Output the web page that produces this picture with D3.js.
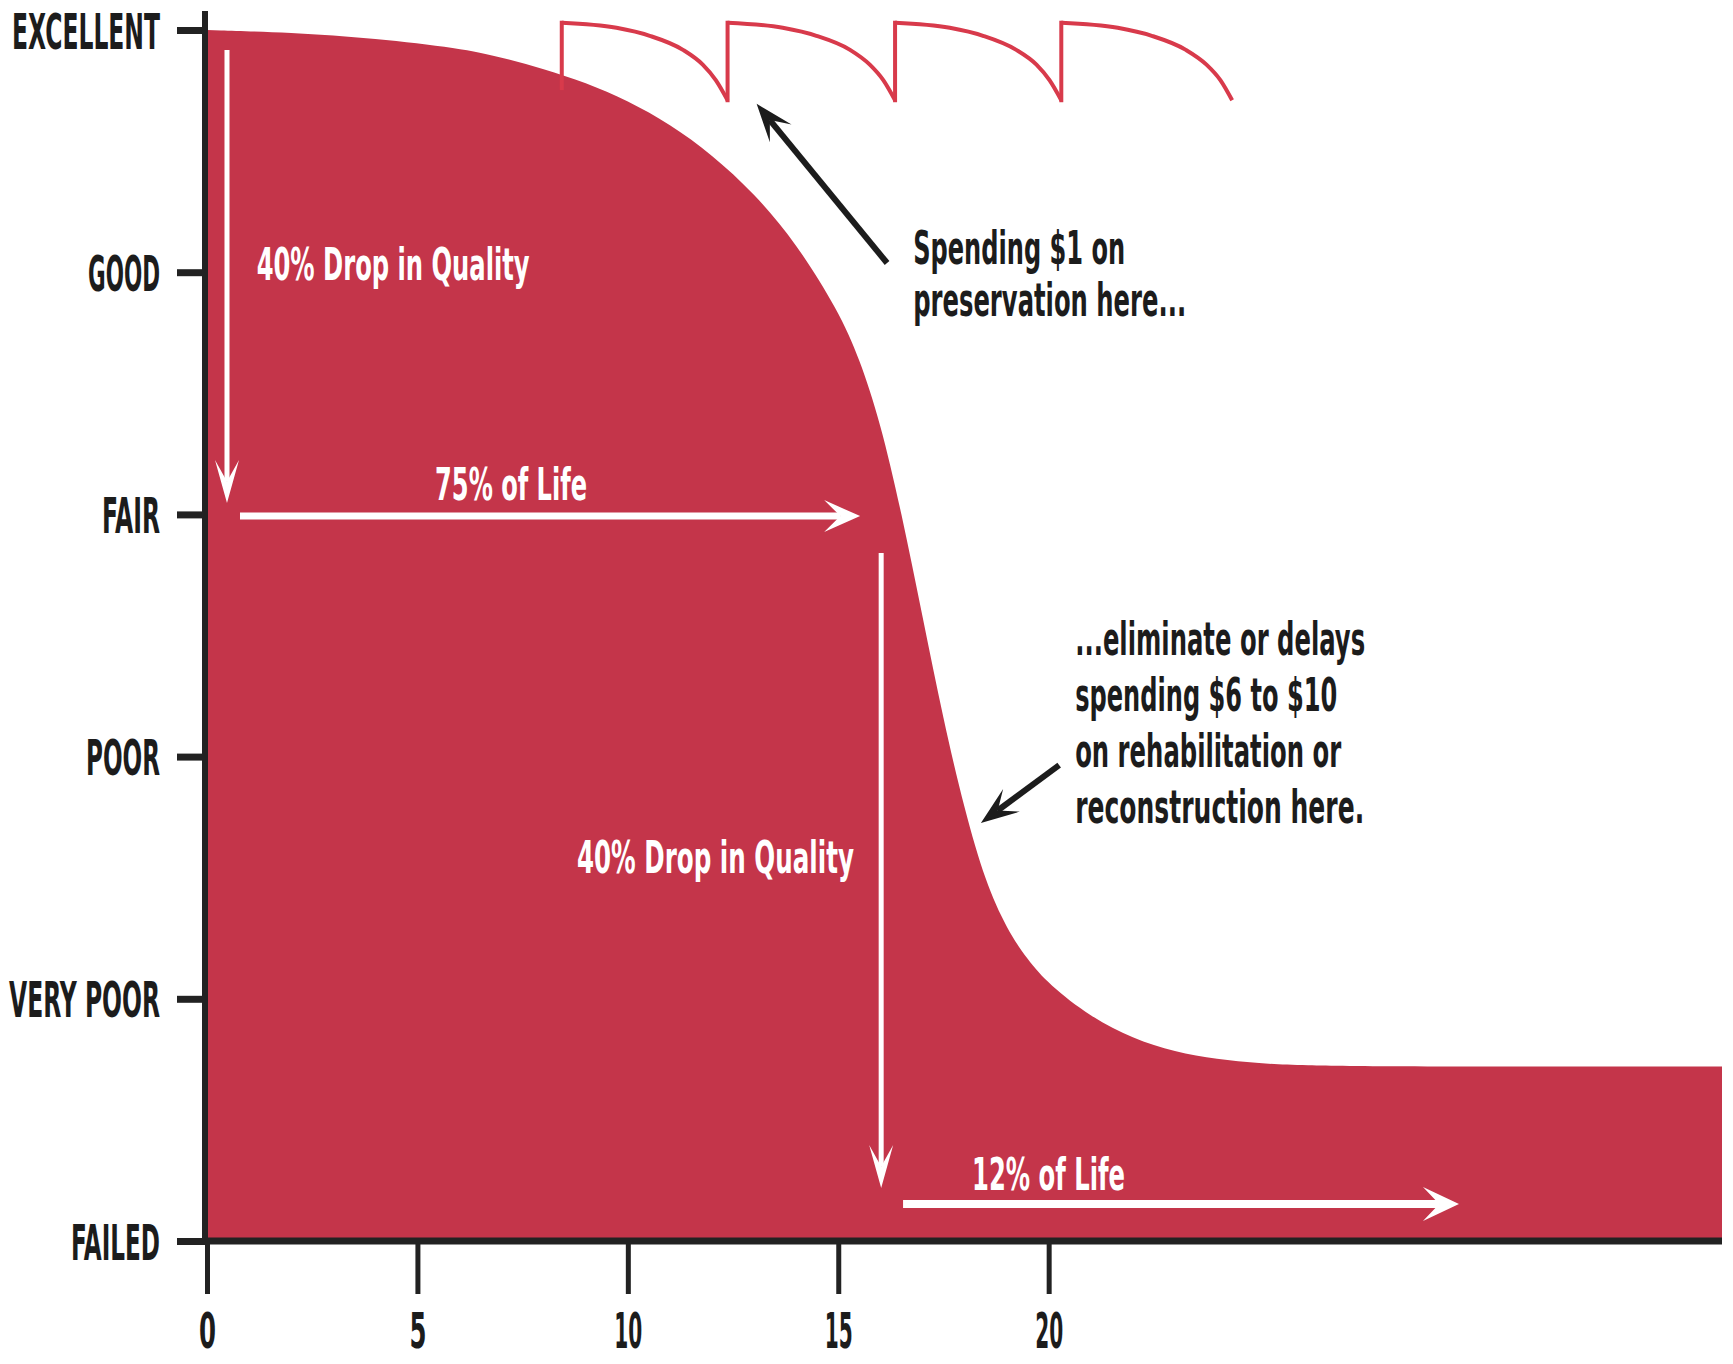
<!DOCTYPE html>
<html>
<head>
<meta charset="utf-8">
<script src="https://cdn.jsdelivr.net/npm/d3@7"></script>
<style>
    body { margin: 0; background: #fff; }
    svg text { font-family: 'Liberation Sans Narrow', 'DejaVu Sans Condensed', sans-serif; font-weight: bold; }
</style>
</head>
<body>
<svg id="chart" width="1733" height="1364"></svg>
<script>
// condition scale, bottom to top
var conditionLabels = ['FAILED', 'VERY POOR', 'POOR', 'FAIR', 'GOOD', 'EXCELLENT'];
var conditionLevels = [0, 1, 2, 3, 4, 5];
var yearTicks = [0, 5, 10, 15, 20];

// pavement condition without treatment (years, condition level)
var curveYears = [0, 2, 4, 6, 7, 8, 9, 10, 11, 12, 13, 14, 15, 15.5, 16, 16.5, 17, 17.5, 18, 18.5, 19, 19.5, 20, 21, 22, 23, 24, 25, 26, 28, 36];
var curveQuality = [5.0, 4.99, 4.965, 4.925, 4.887, 4.84, 4.783, 4.708, 4.611, 4.486, 4.326, 4.121, 3.841, 3.646, 3.381, 3.01, 2.58, 2.15, 1.78, 1.48, 1.29, 1.16, 1.06, 0.925, 0.835, 0.78, 0.75, 0.733, 0.725, 0.72, 0.72];

// preservation treatments: jump back up, then slow decline
var preservationStart = [8.43, 12.37, 16.35, 20.3];
var preservationBase = [4.76, 4.71, 4.71, 4.71];
var preservationArcYears = [
    [8.43, 9.73, 10.52, 11.31, 11.78, 12.09, 12.37],
    [12.37, 13.68, 14.48, 15.28, 15.75, 16.07, 16.35],
    [16.35, 17.65, 18.44, 19.23, 19.71, 20.02, 20.3],
    [20.3, 21.64, 22.45, 23.26, 23.75, 24.08, 24.36]
];
var preservationArcQuality = [5.03, 5.009, 4.976, 4.918, 4.857, 4.793, 4.71];

/** Class drawing the pavement deterioration chart. */
class ConditionChart {

    constructor(svgId) {
        this.svg = d3.select(svgId);
    }

    draw() {
        var svg = this.svg;
        var fillColor = '#c4354a';
        var lineColor = '#d83a4b';
        var inkColor = '#1c1c1c';

        var xScale = d3.scaleLinear().domain([0, 36]).range([207, 1722]);
        var yScale = d3.scaleLinear().domain([0, 5]).range([1241, 30]);
        var axisX = xScale(0) - 2;

        // the deterioration area
        var points = curveYears.map(function(t, i){ return [t, curveQuality[i]]; });
        var area = d3.area()
            .x(function(d){ return xScale(d[0]); })
            .y0(yScale(0))
            .y1(function(d){ return yScale(d[1]); })
            .curve(d3.curveBasis);
        svg.append('path')
            .datum(points)
            .attr('d', area)
            .style('fill', fillColor);

        // preservation sawtooth
        var straight = d3.line()
            .x(function(d){ return xScale(d[0]); })
            .y(function(d){ return yScale(d[1]); });
        var smooth = d3.line()
            .x(function(d){ return xScale(d[0]); })
            .y(function(d){ return yScale(d[1]); })
            .curve(d3.curveMonotoneX);
        preservationArcYears.forEach(function(years, i){
            var arc = years.map(function(t, j){ return [t, preservationArcQuality[j]]; });
            svg.append('path')
                .datum([[preservationStart[i], preservationBase[i]], [preservationStart[i], preservationArcQuality[0]]])
                .attr('d', straight)
                .style('fill', 'none').style('stroke', lineColor).style('stroke-width', 4)
                .style('stroke-linecap', 'square');
            svg.append('path')
                .datum(arc)
                .attr('d', smooth)
                .style('fill', 'none').style('stroke', lineColor).style('stroke-width', 4);
        });

        // y axis
        var labelWidths = {'EXCELLENT': 148, 'GOOD': 72, 'FAIR': 58, 'POOR': 74, 'VERY POOR': 151, 'FAILED': 89};
        var yAxis = d3.axisLeft(yScale)
            .tickValues(conditionLevels)
            .tickFormat(function(d){ return conditionLabels[d]; })
            .tickSize(28)
            .tickPadding(17);
        var yAxisG = svg.append('g')
            .attr('transform', 'translate(' + axisX + ',0)')
            .call(yAxis);
        yAxisG.select('.domain').remove();
        yAxisG.selectAll('line').style('stroke', '#222').style('stroke-width', 7);
        yAxisG.selectAll('text')
            .attr('dy', '0.36em')
            .attr('textLength', function(d){ return labelWidths[conditionLabels[d]]; })
            .attr('lengthAdjust', 'spacingAndGlyphs')
            .style('font-size', '50px')
            .style('fill', inkColor);

        // x axis
        var xAxis = d3.axisBottom(xScale)
            .tickValues(yearTicks)
            .tickSize(53)
            .tickPadding(18);
        var xAxisG = svg.append('g')
            .attr('transform', 'translate(0,' + yScale(0) + ')')
            .call(xAxis);
        xAxisG.select('.domain').remove();
        xAxisG.selectAll('line').style('stroke', '#222').style('stroke-width', 5);
        xAxisG.selectAll('text')
            .attr('textLength', function(d){ return d < 10 ? 17 : 28; })
            .attr('lengthAdjust', 'spacingAndGlyphs')
            .style('font-size', '50px')
            .style('fill', inkColor);

        svg.append('line')
            .attr('x1', axisX).attr('x2', axisX)
            .attr('y1', yScale(5.078)).attr('y2', yScale(0) + 3)
            .style('stroke', '#222').style('stroke-width', 6);
        svg.append('line')
            .attr('x1', axisX - 3).attr('x2', xScale(36))
            .attr('y1', yScale(0)).attr('y2', yScale(0))
            .style('stroke', '#222').style('stroke-width', 7);

        // annotation arrows (head: length, width, notch depth from tip)
        var arrows = [
            {from: [0.475, 4.917], to: [0.475, 3.047], color: '#fff', width: 5, head: [43, 24, 0.5]},
            {from: [0.784, 2.993], to: [15.52, 2.993], color: '#fff', width: 7, head: [36, 32, 0.55]},
            {from: [16.02, 2.841], to: [16.02, 0.219], color: '#fff', width: 5, head: [43, 24, 0.5]},
            {from: [16.54, 0.153], to: [29.75, 0.153], color: '#fff', width: 8, head: [36, 34, 0.55]},
            {from: [16.16, 4.038], to: [13.06, 4.695], color: '#1c1c1c', width: 6, head: [38, 28, 0.55]},
            {from: [20.25, 1.965], to: [18.39, 1.726], color: '#1c1c1c', width: 6, head: [38, 28, 0.55]}
        ];
        arrows.forEach(function(a){
            var x1 = xScale(a.from[0]), y1 = yScale(a.from[1]);
            var x2 = xScale(a.to[0]), y2 = yScale(a.to[1]);
            var ang = Math.atan2(y2 - y1, x2 - x1);
            var ux = Math.cos(ang), uy = Math.sin(ang);
            var nx = -uy, ny = ux;
            var L = a.head[0], W = a.head[1];
            var bx = x2 - L * ux, by = y2 - L * uy;
            var mx = x2 - a.head[2] * L * ux, my = y2 - a.head[2] * L * uy;
            svg.append('line')
                .attr('x1', x1).attr('y1', y1).attr('x2', mx).attr('y2', my)
                .style('stroke', a.color).style('stroke-width', a.width);
            svg.append('path')
                .attr('d', 'M' + x2 + ',' + y2 +
                    'L' + (bx + nx * W / 2) + ',' + (by + ny * W / 2) +
                    'L' + mx + ',' + my +
                    'L' + (bx - nx * W / 2) + ',' + (by - ny * W / 2) + 'Z')
                .style('fill', a.color);
        });

        // annotation texts
        var notes = [
            {lines: ['40% Drop in Quality'], at: [1.18, 3.968], widths: [273], size: 44, color: '#fff', gap: 0},
            {lines: ['75% of Life'], at: [5.42, 3.06], widths: [152], size: 44, color: '#fff', gap: 0},
            {lines: ['40% Drop in Quality'], at: [8.79, 1.519], widths: [277], size: 44, color: '#fff', gap: 0},
            {lines: ['12% of Life'], at: [18.18, 0.211], widths: [153], size: 44, color: '#fff', gap: 0},
            {lines: ['Spending $1 on', 'preservation here...'], at: [16.78, 4.035], widths: [212, 273], size: 46, color: inkColor, gap: 52},
            {lines: ['...eliminate or delays', 'spending $6 to $10', 'on rehabilitation or', 'reconstruction here.'],
                at: [20.63, 2.419], widths: [290, 262, 266, 289], size: 46, color: inkColor, gap: 56}
        ];
        notes.forEach(function(n){
            n.lines.forEach(function(line, i){
                svg.append('text')
                    .attr('x', xScale(n.at[0]))
                    .attr('y', yScale(n.at[1]) + i * n.gap)
                    .attr('textLength', n.widths[i])
                    .attr('lengthAdjust', 'spacingAndGlyphs')
                    .style('font-size', n.size + 'px')
                    .style('fill', n.color)
                    .text(line);
            });
        });
    }
}

var chart = new ConditionChart('#chart');
chart.draw();
</script>
</body>
</html>
